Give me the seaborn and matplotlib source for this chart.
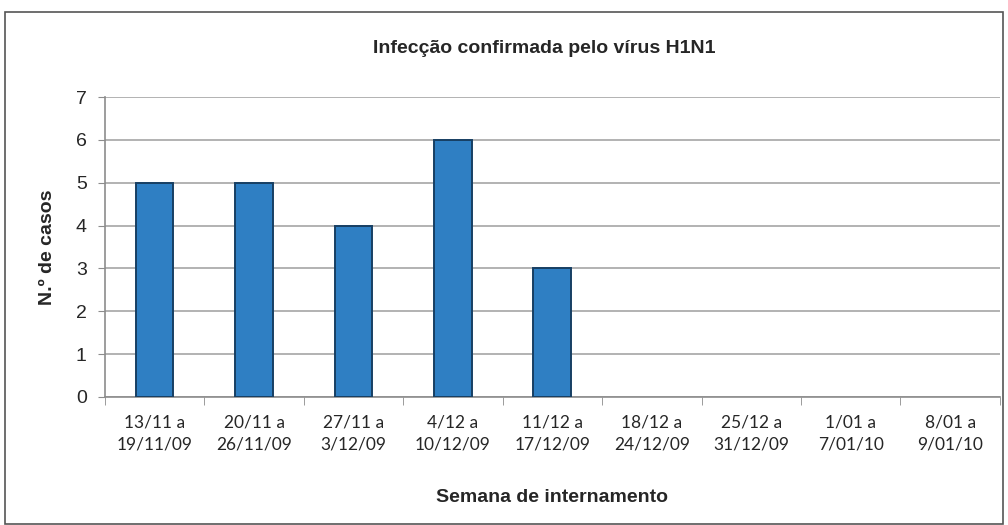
import matplotlib
matplotlib.use("Agg")
import matplotlib.pyplot as plt
import seaborn as sns
import pandas as pd
from matplotlib.patches import Rectangle

# ------------------------------
# Data
# ------------------------------
semanas = [
    "13/11 a\n19/11/09", "20/11 a\n26/11/09", "27/11 a\n3/12/09",
    "4/12 a\n10/12/09", "11/12 a\n17/12/09", "18/12 a\n24/12/09",
    "25/12 a\n31/12/09", "1/01 a\n7/01/10", "8/01 a\n9/01/10",
]
casos = [5, 5, 4, 6, 3, 0, 0, 0, 0]

df = pd.DataFrame({"semana": semanas, "casos": casos})

# ------------------------------
# Plot
# ------------------------------
sns.set_style("white")
plt.rcParams["font.family"] = ["Liberation Sans", "DejaVu Sans"]

fig = plt.figure(figsize=(10.08, 5.25), dpi=100)
ax = fig.add_axes([0.104, 0.244, 0.888, 0.571])

sns.barplot(data=df, x="semana", y="casos", color="#2f7fc3", width=0.38,
            edgecolor="#173f63", linewidth=1.4, saturation=1, ax=ax, zorder=3)

# no outline for empty weeks
for p in ax.patches:
    if p.get_height() == 0:
        p.set_linewidth(0)

ax.set_ylim(0, 7)
ax.set_xlim(-0.5, len(semanas) - 0.5)
ax.set_yticks(range(0, 8))
ax.yaxis.grid(True, color="#a6a6a6", linewidth=1.2, zorder=0)
ax.set_axisbelow(True)

for s in ["top", "right"]:
    ax.spines[s].set_visible(False)
for s in ["left", "bottom"]:
    ax.spines[s].set_color("#8c8c8c")
    ax.spines[s].set_linewidth(1.2)

ax.tick_params(axis="y", labelsize=14, length=5, color="#8c8c8c",
               direction="out", left=True, pad=8)
ax.tick_params(axis="x", which="major", length=0, pad=13)
ax.set_xticks([i + 0.5 for i in range(-1, len(semanas))], minor=True)
ax.tick_params(axis="x", which="minor", length=6, color="#8c8c8c",
               direction="out", bottom=True)
for lbl in ax.get_xticklabels():
    lbl.set_fontfamily(["Lato", "DejaVu Sans"])
    lbl.set_fontsize(12.5)
    lbl.set_linespacing(1.45)
    lbl.set_color("#262626")

ax.set_xlabel("Semana de internamento", fontsize=14, fontweight="bold",
              labelpad=26)
ax.set_ylabel("N.º de casos", fontsize=14, fontweight="bold", labelpad=14)
fig.text(0.54, 0.908, "Infecção confirmada pelo vírus H1N1", ha="center",
         va="center", fontsize=14, fontweight="bold")

# outer frame
fig.patches.append(Rectangle((0.005, 0.002), 0.99, 0.975,
                             transform=fig.transFigure, fill=False,
                             edgecolor="#555555", linewidth=1.2))

fig.savefig("out.png", dpi=100)
